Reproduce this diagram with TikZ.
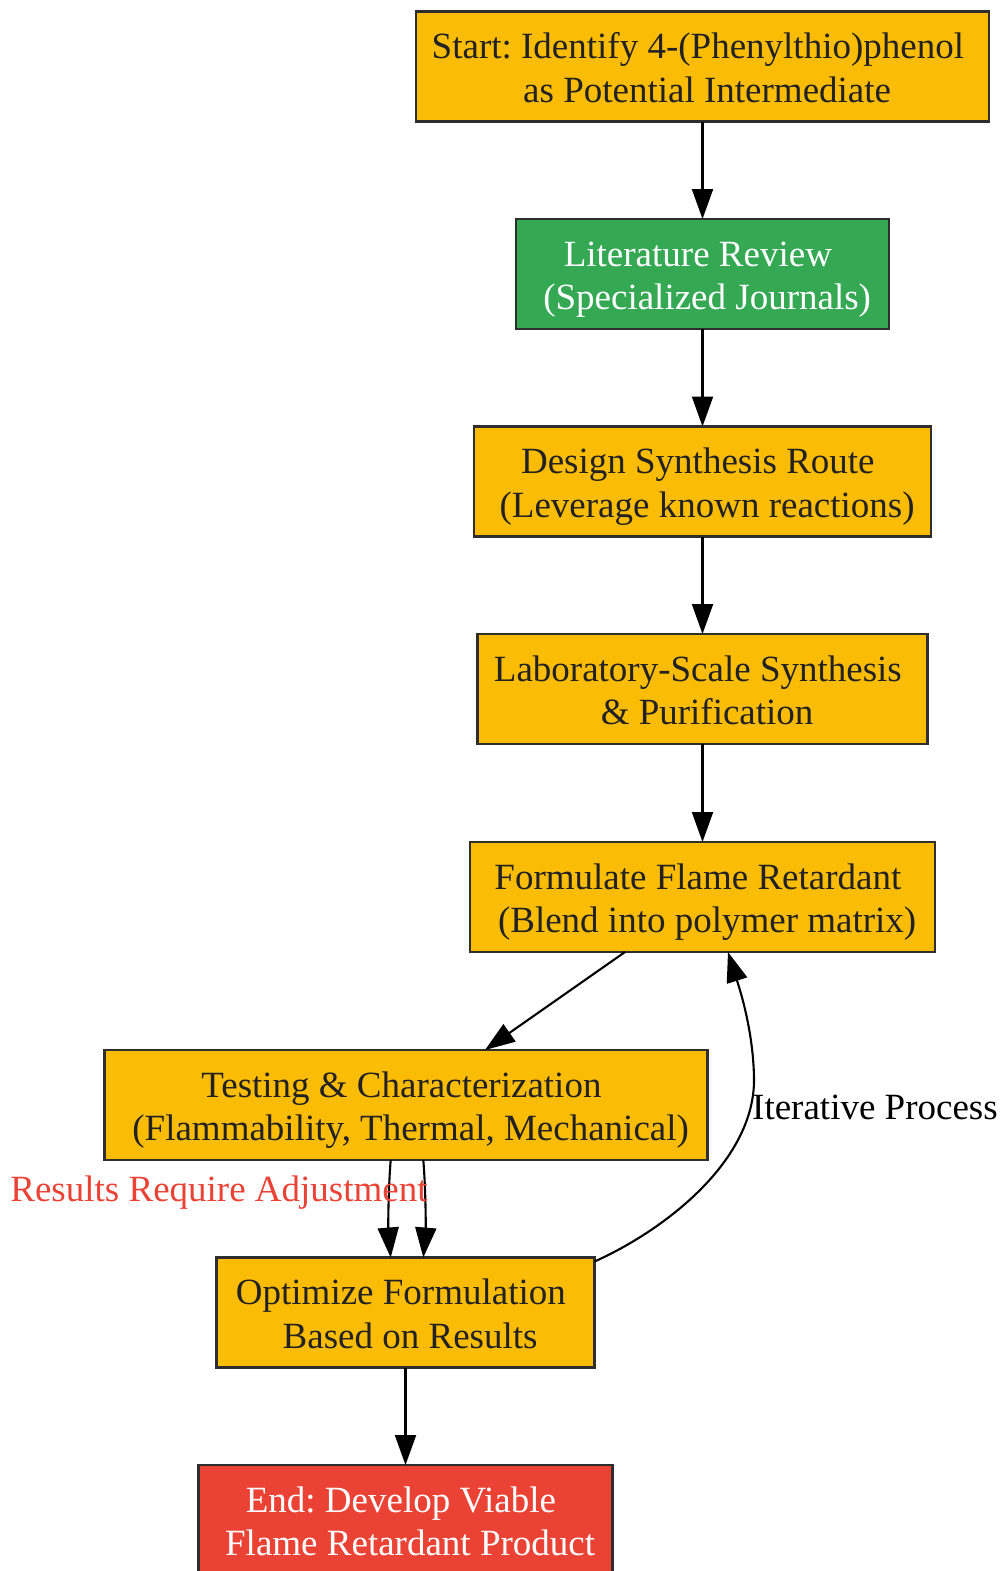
\documentclass[tikz,border=0pt]{standalone}
\usepackage{fontspec}
\setmainfont{Liberation Serif}
\usetikzlibrary{arrows.meta,calc}
\definecolor{gyellow}{HTML}{FBBC05}
\definecolor{ggreen}{HTML}{34A853}
\definecolor{gred}{HTML}{EA4335}
\definecolor{bordergray}{HTML}{2E2E2E}
\definecolor{textdark}{HTML}{222222}
\frenchspacing
\newcommand{\twolines}[2]{\rule{0pt}{38pt}#1\hspace*{9.25pt}\\\hspace*{9.25pt}#2\rule[-10.5pt]{0pt}{10.5pt}}
\begin{document}
\begin{tikzpicture}[x=1pt,y=-1pt,
  box/.style={draw=bordergray, line width=2.6pt, inner sep=0pt, outer sep=0pt, align=center,
    font=\fontsize{37}{43.5}\selectfont\frenchspacing, minimum height=110pt, text=textdark},
  ybox/.style={box, fill=gyellow},
  gbox/.style={box, fill=ggreen, text=white},
  rbox/.style={box, fill=gred, text=white},
  edge/.style={draw=black, line width=2.1pt, -{Triangle[length=30pt,width=21pt]}},
  elabel/.style={font=\fontsize{37}{43.5}\selectfont\frenchspacing, inner sep=0pt}
]
\useasboundingbox (0,0) rectangle (1000,1571);

\node[ybox, minimum width=573pt] (start) at (702.5,66.5) {\twolines{Start: Identify 4-(Phenylthio)phenol}{as Potential Intermediate}};
\node[gbox, minimum width=373pt] (lit) at (702.5,274) {\twolines{Literature Review}{(Specialized Journals)}};
\node[ybox, minimum width=457pt] (design) at (702.5,481.5) {\twolines{Design Synthesis Route}{(Leverage known reactions)}};
\node[ybox, minimum width=450pt] (lab) at (702.5,689) {\twolines{Laboratory-Scale Synthesis}{\& Purification}};
\node[ybox, minimum width=465pt] (form) at (702.5,897) {\twolines{Formulate Flame Retardant}{(Blend into polymer matrix)}};
\node[ybox, minimum width=603pt] (test) at (406,1105) {\twolines{Testing \& Characterization}{(Flammability, Thermal, Mechanical)}};
\node[ybox, minimum width=378pt] (opt) at (405.5,1312.5) {\twolines{Optimize Formulation}{Based on Results}};
\node[rbox, minimum width=414pt] (end) at (405.5,1520) {\twolines{End: Develop Viable}{Flame Retardant Product}};

\draw[edge] (start) -- (lit);
\draw[edge] (lit) -- (design);
\draw[edge] (design) -- (lab);
\draw[edge] (lab) -- (form);
\draw[edge] ($(form.south)+(-77.5,0)$) -- ($(test.north)+(79,0)$);
\draw[edge] ($(test.south)+(-15.3,0)$) .. controls +(-2.5,30) and +(-2.5,-30) .. ($(opt.north)+(-14.8,0)$);
\draw[edge] ($(test.south)+(17.3,0)$) .. controls +(2.5,30) and +(2.5,-30) .. ($(opt.north)+(17.8,0)$);
\draw[edge] ($(opt.north east)+(0,4)$) .. controls (665,1230) and (756,1160) .. (754,1077)
   .. controls (753,1030) and (740,990) .. ($(form.south)+(25.5,0)$);
\draw[edge] (opt) -- (end);

\node[elabel, text=gred, anchor=base] (lbladj) at (219,1201.5) {Results Require Adjustment};
\node[elabel, text=black, anchor=base west] (lbliter) at (752,1119) {Iterative Process};
\end{tikzpicture}
\end{document}
